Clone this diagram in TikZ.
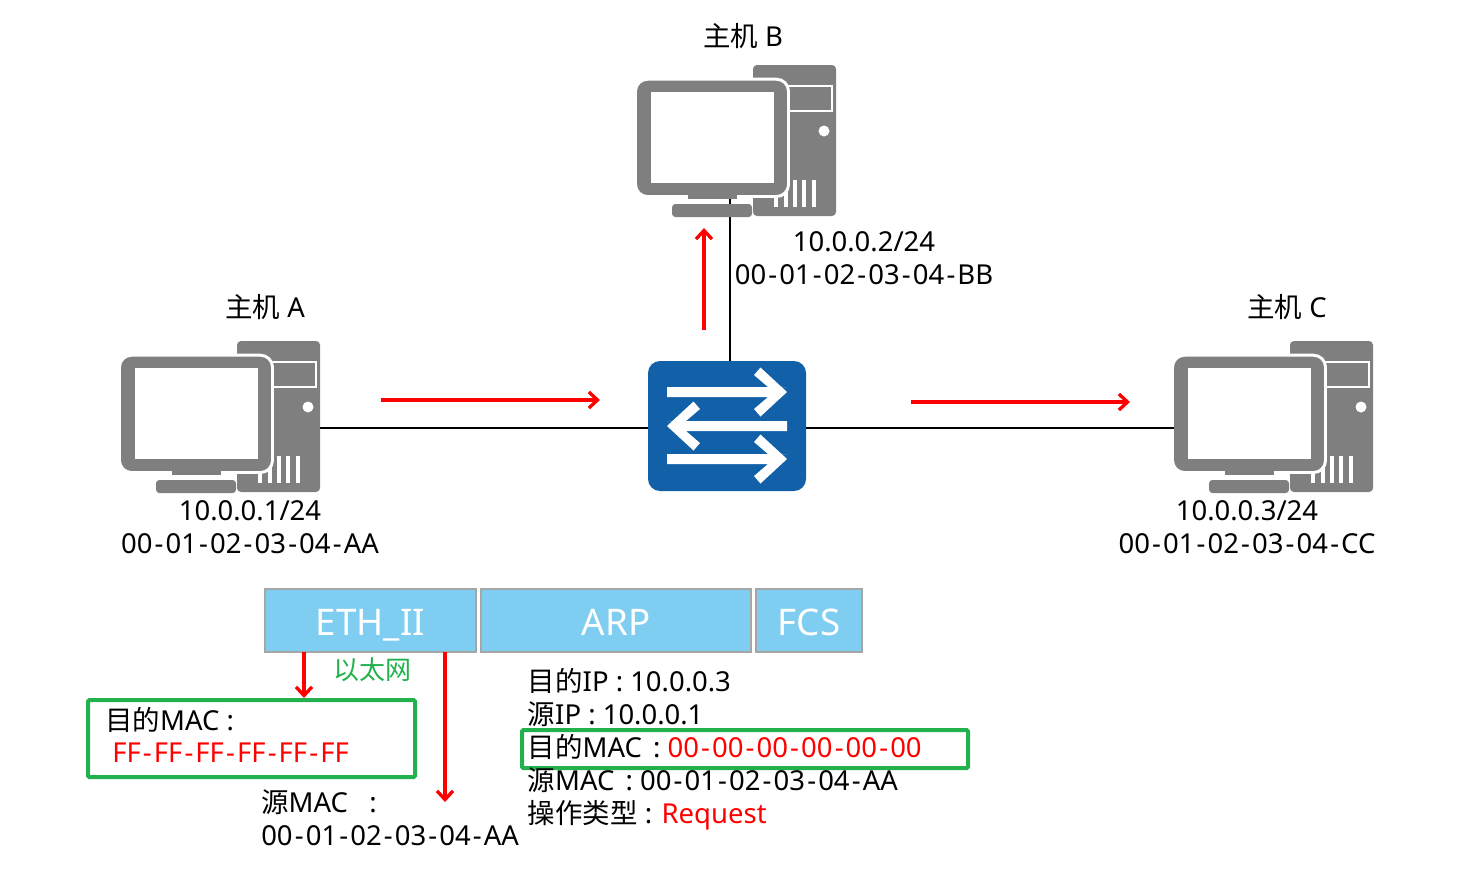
\documentclass[tikz,border=0pt]{standalone}
\usepackage{fontspec}
\setmainfont{Noto Sans}
\newfontfamily\cjk{Noto Sans CJK SC}
\usetikzlibrary{arrows.meta, positioning, backgrounds}
\definecolor{cHost}{HTML}{7F7F7F}
\definecolor{cSwitch}{HTML}{1160A8}
\definecolor{cField}{HTML}{7FCDF0}
\definecolor{cEdge}{HTML}{A6A6A6}
\definecolor{cMark}{HTML}{22B14C}
\newcommand{\zh}[1]{{\cjk #1}}
\newcommand{\hy}{\kern1.6pt-\kern1.6pt}
\newcommand{\macaddr}[6]{#1\hy#2\hy#3\hy#4\hy#5\hy#6}

\begin{document}
\begin{tikzpicture}[
  x=0.75pt, y=-0.75pt,
  node distance=3.75pt,
  txt/.style={inner sep=0pt, anchor=west, align=left, font=\fontsize{20.6}{24.75}\selectfont},
  caption/.style={inner sep=0pt, font=\fontsize{20.6}{24.75}\selectfont},
  field/.style={rectangle, draw=cEdge, fill=cField, line width=1.5pt, outer sep=0pt, minimum height=47.25pt, text height=24pt, text depth=2.2pt, font=\fontsize{27.5}{30}\selectfont, text=white},
  markbox/.style={rectangle, draw=cMark, line width=3pt, rounded corners=1pt, inner sep=0pt, outer sep=0pt},
  wire/.style={line width=2.1pt},
  flow/.style={red, line width=2.5pt, -{Straight Barb[length=6.5pt, width=12pt]}},
  pics/host/.style={code={
    \fill[cHost, rounded corners=3pt] (0,0) rectangle (83,151);
    \draw[white, line width=2pt] (20,21) rectangle (79,46);
    \fill[white] (71,66) circle (5.5);
    \foreach \vx in {23,33,42,51,61} {
      \draw[white, line width=2.5pt] (\vx,115) -- (\vx,142);
    }
    \draw[white, fill=cHost, line width=2.2pt, rounded corners=9pt] (-117.5,14.2) rectangle (35.5,131.5);
    \fill[white] (-102,27) rectangle (21,118);
    \fill[cHost] (-65,130) rectangle (-16,134);
    \fill[cHost, rounded corners=2.5pt] (-81,139) rectangle (-1,152);
    \coordinate (-east) at (83,87);
    \coordinate (-west) at (-116,87);
    \coordinate (-foot) at (-23,134);
  }},
  pics/lane/.style={code={
    \fill[white] (0,-5) -- (-19,-5) -- (-33,-17) -- (-26.5,-24.5) -- (0,0) -- (-26.5,24.5) -- (-33,17) -- (-19,5) -- (-120,5) -- (-120,-5) -- cycle;
  }}
]
\useasboundingbox (0,0) rectangle (1460,876);

\pic (hostA) at (237,341) {host};
\pic (hostB) at (753,65) {host};
\pic (hostC) at (1290,341) {host};

\node[rectangle, fill=cSwitch, rounded corners=9pt, minimum width=118.5pt, minimum height=97.5pt, inner sep=0pt, outer sep=0pt] (sw) at (727,426) {};
\pic at (787,392) {lane};
\pic[xscale=-1] at (667,426) {lane};
\pic at (787,459) {lane};

\draw[wire] (hostA-east) -- (hostA-east -| sw.west);
\draw[wire] (hostC-west) -- (hostC-west -| sw.east);
\begin{scope}[on background layer]
\draw[wire] (hostB-foot) -- (hostB-foot |- sw.north);
\end{scope}

\node[caption] (nameA) at (265,307) {\zh{主机} A};
\node[caption] (nameB) at (743,36) {\zh{主机} B};
\node[caption] (nameC) at (1287,307) {\zh{主机} C};

\node[caption, align=center] (addrA) at (250,527.5) {10.0.0.1/24\\\macaddr{00}{01}{02}{03}{04}{AA}};
\node[caption, align=center] (addrB) at (864,258.5) {10.0.0.2/24\\\macaddr{00}{01}{02}{03}{04}{BB}};
\node[caption, align=center] (addrC) at (1247,527.5) {10.0.0.3/24\\\macaddr{00}{01}{02}{03}{04}{CC}};

\coordinate (fromA) at (381,400);
\coordinate (toSw) at (600,400);
\coordinate (fromSw) at (911,402);
\coordinate (toC) at (1130,402);
\coordinate (upFrom) at (704,330);
\coordinate (upTo) at (704,228);
\draw[flow] (fromA) -- (toSw);
\draw[flow] (fromSw) -- (toC);
\draw[flow] (upFrom) -- (upTo);

\node[field, minimum width=158.25pt] (eth) at (370.5,620.5) {ETH\_II};
\node[field, minimum width=202.5pt, right=of eth] (arp) {ARP};
\node[field, minimum width=79.5pt, right=of arp] (fcs) {FCS};

\node[inner sep=0pt, text=cMark, font=\fontsize{19.5}{22}\selectfont] (lbl) at (372,670) {\zh{以太网}};

\node[markbox, minimum width=245.25pt, minimum height=57.75pt] (dst) at (251.5,738.5) {};
\node[markbox, minimum width=334.5pt, minimum height=28.5pt] (hit) at (745,749) {};

\node[txt] (dstA) at (105,720) {\zh{目的}MAC :};
\node[txt, text=red] (dstB) at (112,753) {\macaddr{FF}{FF}{FF}{FF}{FF}{FF}};
\node[txt] (src) at (261,817.5) {\zh{源}MAC\ \ \ :\\\macaddr{00}{01}{02}{03}{04}{AA}};
\node[txt] (body) at (527.5,749) {\zh{目的}IP : 10.0.0.3\\\zh{源}IP : 10.0.0.1\\\zh{目的}MAC\kern3pt\ : \textcolor{red}{\macaddr{00}{00}{00}{00}{00}{00}}\\\zh{源}MAC\kern3pt\ : \macaddr{00}{01}{02}{03}{04}{AA}\\\zh{操作类型} : \textcolor{red}{Request}};

\coordinate (dstEnd) at (304,698);
\coordinate (srcEnd) at (445,802);
\draw[flow] (eth.south -| dstEnd) -- (dstEnd);
\draw[flow] (eth.south -| srcEnd) -- (srcEnd);
\end{tikzpicture}
\end{document}
